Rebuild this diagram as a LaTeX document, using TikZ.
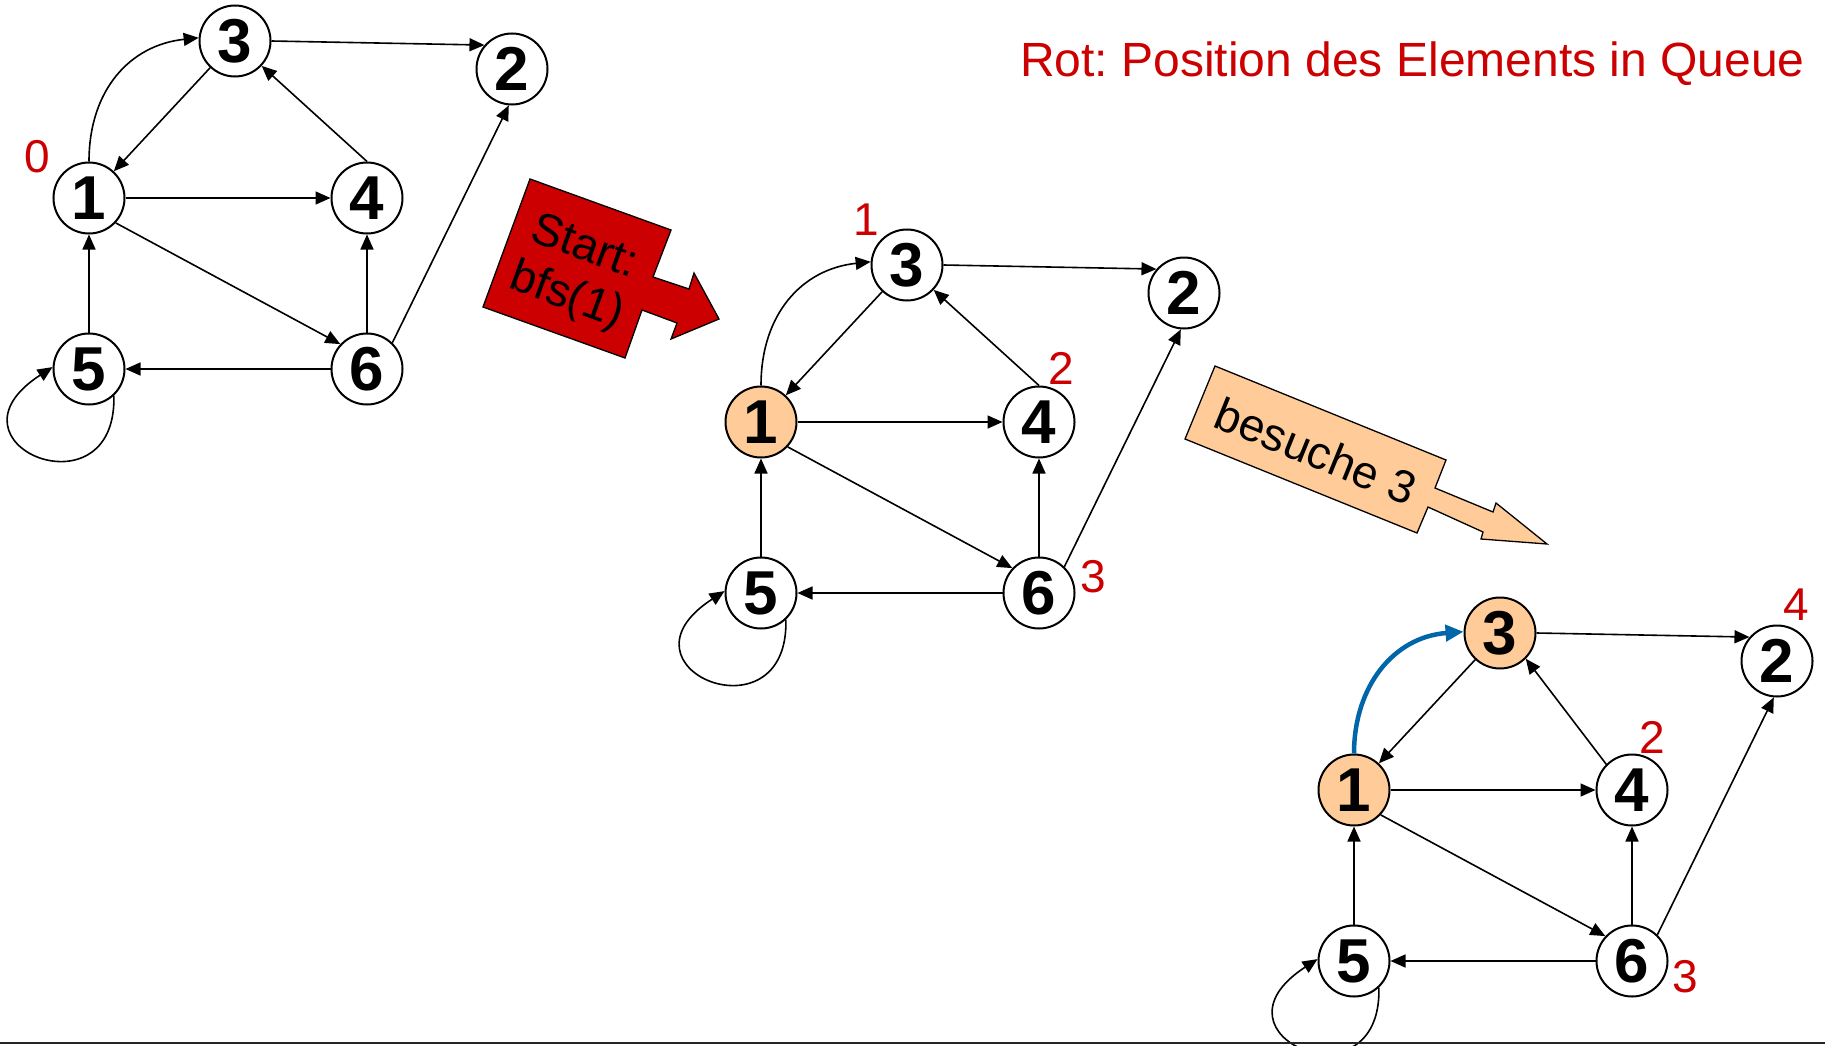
\documentclass[tikz,border=0pt]{standalone}
\usepackage{fontspec}
\setmainfont{Liberation Sans}
\usetikzlibrary{arrows.meta}
\definecolor{myred}{RGB}{204,0,0}
\definecolor{peach}{RGB}{255,204,153}
\definecolor{myblue}{RGB}{0,102,170}
\frenchspacing
\begin{document}
\begin{tikzpicture}[x=1pt,y=-1pt,
  vtx/.style={circle,draw,line width=2pt,minimum size=71pt,inner sep=0pt,fill=white,font=\fontsize{62}{62}\selectfont\bfseries},
  visited/.style={vtx,fill=peach},
  edge/.style={line width=1.6pt,-{Triangle[length=15pt,width=13pt]}},
  blueedge/.style={line width=4.5pt,myblue,-{Triangle[length=18pt,width=16pt]}},
  qpos/.style={text=myred,font=\fontsize{46}{46}\selectfont,inner sep=0pt},
  blockarrow/.style={draw,line width=1.3pt,line join=miter},
  arrowtext/.style={font=\fontsize{46}{52}\selectfont,align=center,inner sep=0pt}]
\clip (0,0) rectangle (1825,1046);
\fill[white] (0,0) rectangle (1825,1046);

% ---------- graph 1 ----------
\begin{scope}
\node[vtx] (a1) at (89,198) {1};
\node[vtx] (a3) at (235,41) {3};
\node[vtx] (a2) at (512,69) {2};
\node[vtx] (a4) at (367,198) {4};
\node[vtx] (a5) at (89,369) {5};
\node[vtx] (a6) at (367,369) {6};
\draw[edge] (a1.north) .. controls (89,90) and (130,45) .. (a3.175);
\draw[edge] (a3.east) -- (a2.139);
\draw[edge] (a3) -- (a1);
\draw[edge] (a4.north) -- (a3.-43);
\draw[edge] (a1.east) -- (a4.west);
\draw[edge] (a1.-43) -- (a6.137);
\draw[edge] (a5.north) -- (a1.south);
\draw[edge] (a6.north) -- (a4.south);
\draw[edge] (a6.west) -- (a5.east);
\draw[edge] (a6.46) -- (a2.-95);
\draw[edge] (a5.-47) .. controls (117,519) and (-66,444) .. (a5.177);
\end{scope}

% ---------- graph 2 ----------
\begin{scope}[shift={(672,224)}]
\node[visited] (b1) at (89,198) {1};
\node[vtx] (b3) at (235,41) {3};
\node[vtx] (b2) at (512,69) {2};
\node[vtx] (b4) at (367,198) {4};
\node[vtx] (b5) at (89,369) {5};
\node[vtx] (b6) at (367,369) {6};
\draw[edge] (b1.north) .. controls (89,90) and (130,45) .. (b3.175);
\draw[edge] (b3.east) -- (b2.139);
\draw[edge] (b3) -- (b1);
\draw[edge] (b4.north) -- (b3.-43);
\draw[edge] (b1.east) -- (b4.west);
\draw[edge] (b1.-43) -- (b6.137);
\draw[edge] (b5.north) -- (b1.south);
\draw[edge] (b6.north) -- (b4.south);
\draw[edge] (b6.west) -- (b5.east);
\draw[edge] (b6.46) -- (b2.-95);
\draw[edge] (b5.-47) .. controls (117,519) and (-66,444) .. (b5.177);
\end{scope}

% ---------- graph 3 ----------
\begin{scope}[shift={(1265,592)}]
\node[visited] (c1) at (89,198) {1};
\node[visited] (c3) at (235,41) {3};
\node[vtx] (c2) at (512,69) {2};
\node[vtx] (c4) at (367,198) {4};
\node[vtx] (c5) at (89,369) {5};
\node[vtx] (c6) at (367,369) {6};
\draw[blueedge] (c1.north) .. controls (89,95) and (128,45) .. (c3.178);
\draw[edge] (c3.east) -- (c2.139);
\draw[edge] (c3) -- (c1);
\draw[edge] (c4.135) -- (c3.-45);
\draw[edge] (c1.east) -- (c4.west);
\draw[edge] (c1.-43) -- (c6.137);
\draw[edge] (c5.north) -- (c1.south);
\draw[edge] (c6.north) -- (c4.south);
\draw[edge] (c6.west) -- (c5.east);
\draw[edge] (c6.46) -- (c2.-95);
\draw[edge] (c5.-47) .. controls (117,519) and (-66,444) .. (c5.177);
\end{scope}

% ---------- queue positions ----------
\node[qpos] (q0) at (37,157) {0};
\node[qpos] (qb1) at (866,220) {1};
\node[qpos] (qb2) at (1061,368) {2};
\node[qpos] (qb3) at (1093,577) {3};
\node[qpos] (qc4) at (1796,605) {4};
\node[qpos] (qc2) at (1652,737) {2};
\node[qpos] (qc3) at (1685,977) {3};

% ---------- title ----------
\node[anchor=base west,inner sep=0pt,text=myred,font=\fontsize{48}{48}\selectfont] (title) at (1020,77) {Rot: Position des Elements in Queue};

% ---------- block arrows ----------
\draw[blockarrow,fill=myred] (530,179) -- (671,230) -- (653,277) -- (689,289) -- (694,273) -- (719,319) -- (671,339) -- (677,323) -- (642,310) -- (625,358) -- (483,307) -- cycle;
\node[arrowtext,rotate=-20] (starttext) at (575,273) {Start:\\bfs(1)};

\draw[blockarrow,fill=peach] (1215,366) -- (1446,460) -- (1435,488) -- (1493,512) -- (1496,503) -- (1547,544) -- (1481,539) -- (1483,532) -- (1428,507) -- (1417,533) -- (1185,439) -- cycle;
\node[arrowtext,rotate=-22.1] (besuche) at (1316,451) {besuche 3};

% ---------- bottom rule ----------
\coordinate (ruleL) at (0,1043);
\coordinate (ruleR) at (1825,1043);
\draw[line width=2pt,black!85] (ruleL) -- (ruleR);
\end{tikzpicture}
\end{document}
